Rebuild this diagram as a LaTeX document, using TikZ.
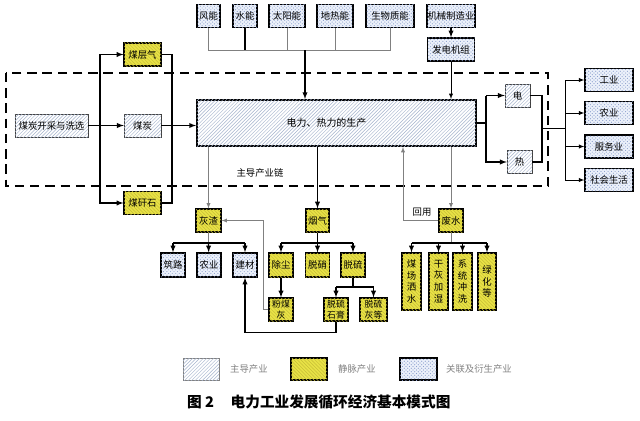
\documentclass[tikz,border=0pt]{standalone}
\usepackage{fontspec}
\setmainfont{Noto Sans CJK SC}
\usetikzlibrary{patterns}
\definecolor{jmyellow}{RGB}{232,226,70}
\definecolor{jmline}{RGB}{200,190,55}
\definecolor{zdline}{RGB}{165,180,205}
\definecolor{glfill}{RGB}{236,241,250}
\definecolor{gldot}{RGB}{140,160,205}

\begin{document}
\begin{tikzpicture}[x=0.03cm,y=-0.03cm,font=\fontsize{8}{10}\selectfont,
   zd/.style={draw=black!75,fill=white,postaction={pattern=north east lines,pattern color=zdline},minimum height=0.69cm,inner sep=0pt},
   jm/.style={draw=black,line width=1pt,fill=jmyellow,postaction={pattern=north west lines,pattern color=jmline},minimum height=0.69cm,inner sep=0pt},
   gl/.style={draw=black,line width=1.1pt,fill=glfill,postaction={pattern=crosshatch dots,pattern color=gldot},minimum height=0.69cm,inner sep=0pt},
   ln/.style={draw=black,line width=1pt},
   gln/.style={draw=gray,line width=0.6pt},
   arr/.style={-latex},
   small/.style={font=\fontsize{7.5}{9}\selectfont,align=center},
   tall/.style={minimum height=1.71cm,minimum width=0.57cm,align=center}]
         \useasboundingbox (0,0) rectangle (640,421);
         \draw[line width=1.2pt,dash pattern=on 8pt off 5pt] (6,73) rectangle (548,186);

         \node[gl,minimum width=0.69cm] (fn) at (208.5,16) {风能};
         \node[gl,minimum width=0.72cm] (sn) at (245,16) {水能};
         \node[gl,minimum width=1.08cm] (tyn) at (287,16) {太阳能};
         \node[gl,minimum width=1.08cm] (drn) at (335,16) {地热能};
         \node[gl,minimum width=1.44cm] (swzn) at (390,16) {生物质能};
         \node[gl,minimum width=1.44cm] (jxzz) at (451,16) {机械制造业};
         \node[gl,minimum width=1.41cm] (fdjz) at (451,49.5) {发电机组};

         \node[zd,draw=black,line width=1.6pt,minimum width=8.37cm,minimum height=1.38cm,font=\fontsize{8.5}{10}\selectfont] (dlrl) at (336.5,123) {\hspace{-0.6cm}电力、热力的生产};
         \node[zd,minimum width=2.19cm] (mtkc) at (51.5,125.5) {煤炭开采与洗选};
         \node[zd,minimum width=1.11cm] (mt) at (142.5,125.5) {煤炭};
         \node[jm,minimum width=1.11cm] (mcq) at (142.5,54.5) {煤层气};
         \node[jm,minimum width=1.11cm] (mgs) at (142.5,203) {煤矸石};
         \node (zdcyl) at (260,173) {主导产业链};

         \node[zd,minimum width=0.75cm] (dian) at (517.5,95.5) {电};
         \node[zd,minimum width=0.75cm] (re) at (519.5,162) {热};
         \node[gl,minimum width=1.44cm] (gy) at (609,80) {工业};
         \node[gl,minimum width=1.44cm] (ny) at (609,113) {农业};
         \node[gl,minimum width=1.44cm] (fwy) at (609,146.5) {服务业};
         \node[gl,minimum width=1.44cm] (shsh) at (609,180) {社会生活};

         \node[jm,minimum width=0.75cm] (hz) at (208.5,220.5) {灰渣};
         \node[jm,minimum width=0.69cm] (yq) at (317.5,220.5) {烟气};
         \node[jm,minimum width=0.72cm] (fs) at (451,220.5) {废水};
         \node (hyt) at (422,212) {回用};

         \node[gl,minimum width=0.72cm,minimum height=0.72cm] (zl) at (173,265) {筑路};
         \node[gl,minimum width=0.72cm,minimum height=0.72cm] (ny2) at (209,265) {农业};
         \node[gl,minimum width=0.72cm,minimum height=0.72cm] (jc) at (245,265) {建材};
         \node[jm,minimum width=0.72cm,minimum height=0.72cm] (cc) at (281,265) {除尘};
         \node[jm,minimum width=0.72cm,minimum height=0.72cm] (tx) at (317.5,265) {脱硝};
         \node[jm,minimum width=0.72cm,minimum height=0.72cm] (tl) at (353,265) {脱硫};
         \node[jm,small,minimum width=0.72cm] (fmh) at (281,309.5) {粉煤\\灰};
         \node[jm,small,minimum width=0.72cm] (tlsg) at (336,309.5) {脱硫\\石膏};
         \node[jm,small,minimum width=0.81cm] (tlhd) at (373.5,309.5) {脱硫\\灰等};

         \node[jm,tall] (mcss) at (411.5,281.5) {煤\\场\\洒\\水};
         \node[jm,tall] (ghjs) at (438.5,281.5) {干\\灰\\加\\湿};
         \node[jm,tall] (xtcx) at (462.5,281.5) {系\\统\\冲\\洗};
         \node[jm,tall,minimum width=0.54cm] (lhd) at (487,281.5) {绿\\化\\等};

         \coordinate (bus) at (305,50);
         \coordinate (zuo) at (100,0);
         \coordinate (you) at (172,125.5);
         \coordinate (r1) at (486,123);
         \coordinate (r2) at (542,128);
         \coordinate (r3) at (565,128);
         \coordinate (hy) at (403,220.5);
         \coordinate (hzb) at (208.5,243);
         \coordinate (yqb) at (317.5,243);
         \coordinate (tlb) at (353,287);
         \coordinate (fsb) at (451,243);

         \draw[gln] (fn.south) -- (fn.south |- bus) -- (swzn.south |- bus) -- (swzn.south);
         \draw[ln] (sn.south) -- (sn.south |- bus);
         \draw[gln] (tyn.south) -- (tyn.south |- bus);
         \draw[gln] (drn.south) -- (drn.south |- bus);
         \draw[ln,arr] (bus) -- (bus |- dlrl.north);
         \draw[ln,arr] (jxzz) -- (fdjz);
         \draw[ln,line width=0.6pt,arr] (fdjz) -- (fdjz |- dlrl.north);

         \draw[ln,arr] (mtkc) -- (mt);
         \draw[ln,arr] (mtkc.east -| zuo) |- (mcq);
         \draw[ln,arr] (mtkc.east -| zuo) |- (mgs);
         \draw[ln] (mcq.east) -| (you) |- (mgs.east);
         \draw[ln,arr] (mt) -- (mt -| dlrl.west);

         \draw[ln] (dlrl.east) -- (r1);
         \draw[ln,arr] (r1 |- dian) -- (dian);
         \draw[ln,arr] (r1 |- dian) |- (re);
         \draw[ln] (dian.east) -| (r2) |- (re.east);
         \draw[line width=0.6pt] (r2) -- (r3);
         \draw[line width=0.6pt,arr] (r3 |- gy) -- (gy);
         \draw[line width=0.6pt,arr] (r3 |- gy) |- (shsh);
         \draw[line width=0.6pt,arr] (r3 |- ny) -- (ny);
         \draw[line width=0.6pt,arr] (r3 |- fwy) -- (fwy);

         \draw[gln,arr] (dlrl.south -| hz) -- (hz);
         \draw[ln,arr] (dlrl.south -| yq) -- (yq);
         \draw[gln,arr] (dlrl.south -| fs) -- (fs);
         \draw[gln,arr] (fs.west) -- (hy) -- (hy |- dlrl.south);

         \draw[gln] (hz) -- (hzb);
         \draw[ln] (hzb -| zl) -- (hzb -| jc);
         \draw[ln,arr] (hzb -| zl) -- (zl);
         \draw[ln,arr] (hzb) -- (ny2);
         \draw[ln,arr] (hzb -| jc) -- (jc);

         \draw[ln] (yq) -- (yqb);
         \draw[ln] (yqb -| cc) -- (yqb -| tl);
         \draw[ln,arr] (yqb -| cc) -- (cc);
         \draw[ln,arr] (yqb) -- (tx);
         \draw[ln,arr] (yqb -| tl) -- (tl);
         \draw[ln,arr] (cc) -- (fmh);
         \draw[ln] (tl) -- (tlb);
         \draw[ln] (tlb -| tlsg) -- (tlb -| tlhd);
         \draw[ln,arr] (tlb -| tlsg) -- (tlsg);
         \draw[ln,arr] (tlb -| tlhd) -- (tlhd);
         \draw[gln,arr] (fmh.west) -- ++(-5,0) |- (hz.east);
         \draw[ln,arr] (tlsg.south) -- ++(0,11) -| (jc.south);

         \draw[gln] (fs) -- (fsb);
         \draw[ln] (fsb -| mcss) -- (fsb -| lhd);
         \draw[ln,arr] (fsb -| mcss) -- (mcss);
         \draw[ln,arr] (fsb -| ghjs) -- (ghjs);
         \draw[ln,arr] (fsb -| xtcx) -- (xtcx);
         \draw[ln,arr] (fsb -| lhd) -- (lhd);

         \node[zd,draw=gray,minimum width=1.08cm,minimum height=0.66cm] (lg1) at (201,369) {};
         \node[text=gray,anchor=west] (lt1) at (226,369) {主导产业};
         \node[jm,minimum width=1.08cm,minimum height=0.66cm] (lg2) at (309,369) {};
         \node[text=gray,anchor=west] (lt2) at (334,369) {静脉产业};
         \node[gl,minimum width=1.11cm,minimum height=0.66cm] (lg3) at (418.5,369) {};
         \node[text=gray,anchor=west] (lt3) at (442,369) {关联及衍生产业};

         \node[anchor=west,font=\fontsize{12.5}{14}\selectfont\bfseries] (cap) at (183,402) {图 2\hspace{0.5cm}电力工业发展循环经济基本模式图};
\end{tikzpicture}
\end{document}
